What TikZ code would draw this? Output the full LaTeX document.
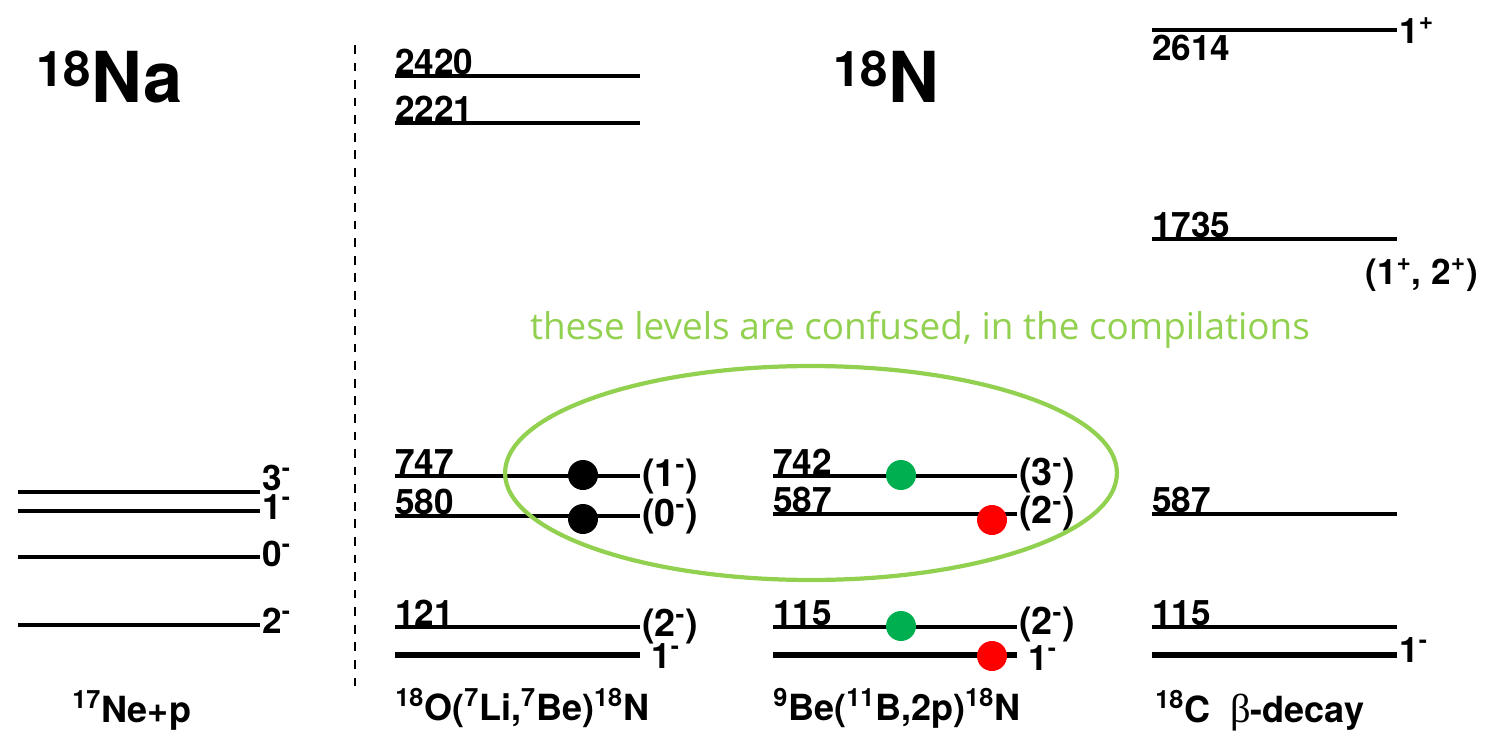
\documentclass[tikz,border=0pt]{standalone}
\usepackage{fontspec}
\setmainfont{TeX Gyre Heros}
\newfontfamily\notefont{Open Sans}
\newfontfamily\grkfont{Liberation Serif}
\definecolor{confgreen}{HTML}{92D050}
\definecolor{dotgreen}{HTML}{00B050}

\begin{document}
\begin{tikzpicture}[x=0.02cm,y=-0.02cm,
  lvl/.style ={line width=2.1pt},
  gnd/.style ={line width=3.2pt},
  elbl/.style={font=\fontsize{20}{20}\selectfont\bfseries, anchor=base west, inner sep=0pt},
  jlbl/.style={font=\fontsize{21.5}{21.5}\selectfont\bfseries, anchor=west, inner sep=1pt},
  ttl/.style ={font=\fontsize{40}{40}\selectfont\bfseries, anchor=base west, inner sep=0pt},
  rxn/.style ={font=\fontsize{20.5}{20.5}\selectfont\bfseries, anchor=base west, inner sep=0pt},
  bdot/.style={fill=black},
  gdot/.style={fill=dotgreen},
  rdot/.style={fill=red}]

  \useasboundingbox (0,0) rectangle (1494,737);

  % ---------------- titles ----------------
  \node[ttl] (naT) at (36,102) {\textsuperscript{18}Na};
  \node[ttl] (nT)  at (833,102) {\textsuperscript{18}N};

  % ---------------- 17Ne+p (18Na) ----------------
  \draw[lvl] (18,492) -- (260,492);
  \draw[lvl] (18,511) -- (260,511);
  \draw[lvl] (18,557) -- (260,557);
  \draw[lvl] (18,625) -- (260,625);
  \node[elbl] (na3) at (262,490) {3\textsuperscript{-}};
  \node[elbl] (na1) at (262,519) {1\textsuperscript{-}};
  \node[elbl] (na0) at (262,566) {0\textsuperscript{-}};
  \node[elbl] (na2) at (262,633) {2\textsuperscript{-}};
  \node[rxn] (neP) at (72,722) {\textsuperscript{17}Ne+p};

  \draw[line width=0.9pt, dash pattern=on 5pt off 5pt] (355,45) -- (355,690);

  % ---------------- 18O(7Li,7Be)18N ----------------
  \draw[lvl] (395,76) -- (640,76);   \node[elbl] (e2420) at (395,74) {2420};
  \draw[lvl] (395,123) -- (640,123); \node[elbl] (e2221) at (395,121) {2221};
  \draw[lvl] (395,476) -- (640,476); \node[elbl] (e747) at (395,474) {747};
  \draw[lvl] (395,516) -- (640,516); \node[elbl] (e580) at (395,514) {580};
  \draw[lvl] (395,627) -- (640,627); \node[elbl] (e121) at (395,625) {121};
  \draw[gnd] (395,655) -- (640,655);
  \node[jlbl] (j747) at (640,477) {(1\textsuperscript{-})};
  \node[jlbl] (j580) at (640,517) {(0\textsuperscript{-})};
  \node[jlbl] (j121) at (640,627) {(2\textsuperscript{-})};
  \node[elbl] (jLiG) at (651,668) {1\textsuperscript{-}};
  \fill[bdot] (583,475) circle [radius=0.3cm];
  \fill[bdot] (583,519) circle [radius=0.3cm];
  \node[rxn] (liRx) at (395,720) {\textsuperscript{18}O(\textsuperscript{7}Li,\textsuperscript{7}Be)\textsuperscript{18}N};

  % ---------------- 9Be(11B,2p)18N ----------------
  \draw[lvl] (773,476) -- (1017,476); \node[elbl] (e742) at (773,474) {742};
  \draw[lvl] (773,514) -- (1017,514); \node[elbl] (e587) at (773,512) {587};
  \draw[lvl] (773,627) -- (1017,627); \node[elbl] (e115) at (773,625) {115};
  \draw[gnd] (773,655) -- (1017,655);
  \node[jlbl] (j742) at (1017,476) {(3\textsuperscript{-})};
  \node[jlbl] (j587) at (1017,514) {(2\textsuperscript{-})};
  \node[jlbl] (j115) at (1017,625) {(2\textsuperscript{-})};
  \node[elbl] (jBG) at (1028,670) {1\textsuperscript{-}};
  \fill[gdot] (901,475) circle [radius=0.3cm];
  \fill[gdot] (901,626) circle [radius=0.3cm];
  \fill[rdot] (992,520) circle [radius=0.3cm];
  \fill[rdot] (992,656) circle [radius=0.3cm];
  \node[rxn] (bRx) at (773,720) {\textsuperscript{9}Be(\textsuperscript{11}B,2p)\textsuperscript{18}N};

  % ---------------- 18C beta-decay ----------------
  \draw[lvl] (1152,30) -- (1397,30);   \node[elbl] (e2614) at (1152,60) {2614};
  \node[elbl] (j2614) at (1399,43) {1\textsuperscript{+}};
  \draw[lvl] (1152,239) -- (1397,239); \node[elbl] (e1735) at (1152,237) {1735};
  \node[elbl] (j1735) at (1365,284) {(1\textsuperscript{+}, 2\textsuperscript{+})};
  \draw[lvl] (1152,514) -- (1397,514); \node[elbl] (e587c) at (1152,512) {587};
  \draw[lvl] (1152,627) -- (1397,627); \node[elbl] (e115c) at (1152,625) {115};
  \draw[gnd] (1152,655) -- (1397,655);
  \node[elbl] (jCG) at (1399,662) {1\textsuperscript{-}};
  \node[rxn] (cRx) at (1155,722) {\textsuperscript{18}C\ \ {\grkfont\mdseries\fontsize{23}{23}\selectfont β}-decay};

  % ---------------- confused levels ----------------
  \draw[confgreen, line width=2.4pt] (811,473) ellipse [x radius=6.12cm, y radius=2.14cm];
  \node[font=\notefont\fontsize{21}{21}\selectfont, text=confgreen] (note) at (920,330)
    {these levels are confused, in the compilations};
\end{tikzpicture}
\end{document}
